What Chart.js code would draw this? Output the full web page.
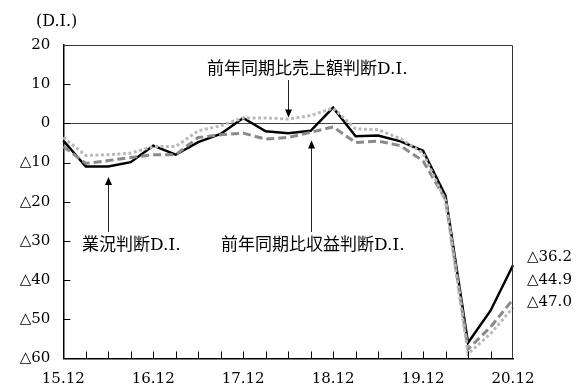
<!DOCTYPE html>
<html>
<head>
<meta charset="utf-8">
<script src="https://cdn.jsdelivr.net/npm/chart.js@4.4.1/dist/chart.umd.min.js"></script>
<style>
  html, body { margin: 0; padding: 0; background: #fff; }
</style>
</head>
<body>
<canvas id="chart" width="584" height="389"></canvas>
<script>
// quarterly survey periods, 15.12 .. 20.12
const QUARTERS = ['15.12', '16.3', '16.6', '16.9', '16.12', '17.3', '17.6', '17.9', '17.12',
                  '18.3', '18.6', '18.9', '18.12', '19.3', '19.6', '19.9', '19.12',
                  '20.3', '20.6', '20.9', '20.12'];

// 業況判断D.I. (black solid)
const GYOKYO = [-4.4, -11.0, -11.0, -9.9, -5.7, -8.0, -4.8, -2.7, 1.4, -2.0, -2.5, -1.9, 4.0,
                -3.3, -3.1, -4.6, -7.0, -18.5, -56.0, -47.8, -36.2];
// 前年同期比売上額判断D.I. (light grey dotted)
const URIAGE = [-3.6, -8.2, -8.0, -7.6, -5.9, -5.9, -1.9, -0.6, 1.4, 1.4, 1.1, 2.0, 3.9,
                -1.4, -1.6, -3.9, -7.6, -19.8, -58.8, -53.7, -47.0];
// 前年同期比収益判断D.I. (grey dashed)
const SHUEKI = [-5.9, -10.2, -9.5, -8.7, -8.0, -8.0, -3.6, -2.9, -2.5, -4.0, -3.6, -2.3, -0.9,
                -4.9, -4.5, -5.7, -9.6, -19.4, -57.6, -52.0, -44.9];

const Y_MIN = -60, Y_MAX = 20, Y_STEP = 10;
const END_LABELS = ['△36.2', '△44.9', '△47.0'];

const SERIF = "'DejaVu Serif', 'Noto Sans CJK JP', serif";

function fmtY(v) {
    return v < 0 ? '△' + (-v) : String(v);
}

// box, zero line, inward ticks, call-outs
const decorations = {
    id: 'decorations',
    beforeDatasetsDraw(chart) {
        const { ctx, chartArea: a, scales: { y } } = chart;
        ctx.save();
        ctx.strokeStyle = '#444';
        ctx.lineWidth = 1;
        const y0 = Math.round(y.getPixelForValue(0)) + 0.5;
        ctx.beginPath();
        ctx.moveTo(a.left, y0);
        ctx.lineTo(a.right, y0);
        ctx.stroke();
        ctx.restore();
    },
    afterDatasetsDraw(chart) {
        const { ctx, chartArea: a, scales: { x, y } } = chart;
        ctx.save();
        // top and right edges
        ctx.strokeStyle = '#333';
        ctx.lineWidth = 1;
        ctx.beginPath();
        ctx.moveTo(a.left, a.top + 0.5);
        ctx.lineTo(a.right - 0.5, a.top + 0.5);
        ctx.lineTo(a.right - 0.5, a.bottom);
        ctx.stroke();

        // inward ticks
        ctx.strokeStyle = '#000';
        ctx.beginPath();
        for (let v = Y_MIN + Y_STEP; v < Y_MAX; v += Y_STEP) {
            const py = Math.round(y.getPixelForValue(v)) + 0.5;
            ctx.moveTo(a.left, py);
            ctx.lineTo(a.left + 7, py);
        }
        for (let i = 1; i < QUARTERS.length - 1; i++) {
            const px = Math.round(x.getPixelForValue(i)) + 0.5;
            ctx.moveTo(px, a.bottom);
            ctx.lineTo(px, a.bottom - 7);
        }
        ctx.stroke();
        ctx.restore();
    },
    afterDraw(chart) {
        const { ctx, scales: { x, y } } = chart;
        ctx.save();
        ctx.fillStyle = '#000';
        ctx.textBaseline = 'middle';
        ctx.textAlign = 'left';

        ctx.font = '16px ' + SERIF;
        ctx.fillText('(D.I.)', 36, 22);

        ctx.font = '17px ' + SERIF;
        ctx.fillText('前年同期比売上額判断D.I.', 207, 70);
        ctx.fillText('業況判断D.I.', 82, 246);
        ctx.fillText('前年同期比収益判断D.I.', 221, 246);

        ctx.font = '15px ' + SERIF;
        ctx.fillText(END_LABELS[0], 527, 257);
        ctx.fillText(END_LABELS[1], 527, 280);
        ctx.fillText(END_LABELS[2], 527, 302);

        function arrow(px, fromY, toY) {
            const dir = toY > fromY ? 1 : -1;
            ctx.strokeStyle = '#222';
            ctx.lineWidth = 1;
            ctx.beginPath();
            ctx.moveTo(px, fromY);
            ctx.lineTo(px, toY - dir * 7);
            ctx.stroke();
            ctx.fillStyle = '#000';
            ctx.beginPath();
            ctx.moveTo(px, toY);
            ctx.lineTo(px - 3.5, toY - dir * 8);
            ctx.lineTo(px + 3.5, toY - dir * 8);
            ctx.closePath();
            ctx.fill();
        }
        arrow(Math.round(x.getPixelForValue(10)) + 0.5, 80, y.getPixelForValue(1.5));
        arrow(Math.round(x.getPixelForValue(2)) + 0.5, 232, y.getPixelForValue(-13.7));
        arrow(Math.round(x.getPixelForValue(11)) + 0.5, 232, y.getPixelForValue(-4.4));
        ctx.restore();
    }
};

new Chart(document.getElementById('chart'), {
    type: 'line',
    data: {
        labels: QUARTERS,
        datasets: [{
            label: '前年同期比売上額判断D.I.',
            data: URIAGE,
            borderColor: '#b9b9b9',
            borderWidth: 3,
            borderDash: [3, 2.5],
            order: 0
        }, {
            label: '前年同期比収益判断D.I.',
            data: SHUEKI,
            borderColor: '#8a8a8a',
            borderWidth: 3,
            borderDash: [8, 4],
            order: 1
        }, {
            label: '業況判断D.I.',
            data: GYOKYO,
            borderColor: '#000',
            borderWidth: 2.5,
            order: 2
        }]
    },
    options: {
        responsive: false,
        animation: false,
        events: [],
        layout: { padding: { left: 0, right: 71, top: 45, bottom: 0 } },
        elements: {
            point: { radius: 0 },
            line: { tension: 0, borderCapStyle: 'butt', borderJoinStyle: 'miter' }
        },
        plugins: {
            legend: { display: false },
            tooltip: { enabled: false }
        },
        scales: {
            x: {
                offset: false,
                grid: { display: false, drawTicks: false },
                border: { color: '#000', width: 1.5 },
                afterFit(scale) { scale.height = 30.5; },
                ticks: {
                    autoSkip: false,
                    maxRotation: 0,
                    padding: 12,
                    color: '#000',
                    font: { family: SERIF, size: 15 },
                    callback(val, i) {
                        const lab = QUARTERS[i];
                        return lab.endsWith('.12') ? lab : '';
                    }
                }
            },
            y: {
                min: Y_MIN,
                max: Y_MAX,
                grid: { display: false, drawTicks: false },
                border: { color: '#000', width: 1.5 },
                afterFit(scale) { scale.width = 63.3; },
                ticks: {
                    stepSize: Y_STEP,
                    padding: 13,
                    color: '#000',
                    font: { family: SERIF, size: 15 },
                    callback: fmtY
                }
            }
        }
    },
    plugins: [decorations]
});
</script>
</body>
</html>
